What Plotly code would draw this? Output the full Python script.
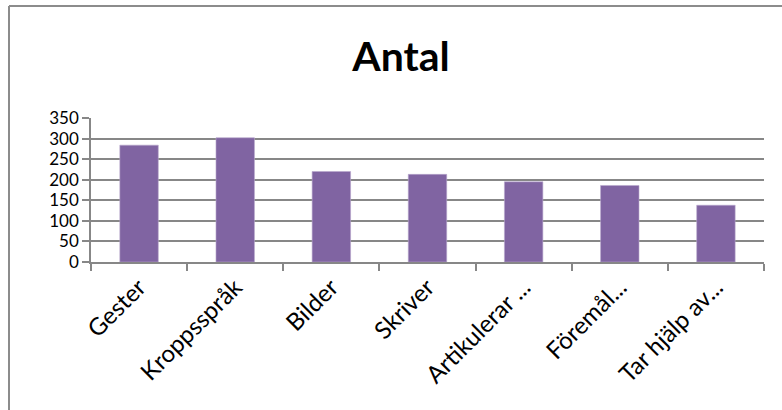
import plotly.graph_objects as go

categories = ["Gester", "Kroppsspråk", "Bilder", "Skriver",
              "Artikulerar ...", "Föremål...", "Tar hjälp av..."]
counts = [284, 302, 220, 213, 195, 186, 138]
y_ticks = [0, 50, 100, 150, 200, 250, 300, 350]

W, H = 782, 410
ML, MR, MT, MB = 91, 18, 118, 148
pw, ph = W - ML - MR, H - MT - MB

grid = "#878787"
font = "Lato, 'Open Sans', sans-serif"

fig = go.Figure(go.Bar(
    x=categories, y=counts,
    marker=dict(color="#8064A2", line=dict(color="#B8A8CC", width=0.6)),
    width=0.4,
))

# outer chart frame (top and left edges visible)
def px_to_paper(x, y):
    return (x - ML) / pw, (H - MB - y) / ph

x0, y0 = px_to_paper(9, 6)
x1, _ = px_to_paper(W + 5, 6)
_, y1 = px_to_paper(9, H + 5)
fig.add_shape(type="line", xref="paper", yref="paper", x0=x0, y0=y0, x1=x1, y1=y0,
              line=dict(color="#8c8c8c", width=2))
fig.add_shape(type="line", xref="paper", yref="paper", x0=x0, y0=y0, x1=x0, y1=y1,
              line=dict(color="#8c8c8c", width=2))

fig.update_layout(
    width=W, height=H,
    margin=dict(l=ML, r=MR, t=MT, b=MB),
    paper_bgcolor="white", plot_bgcolor="white",
    showlegend=False,
    title=dict(text="<b>Antal</b>", x=401 / W, xanchor="center",
               y=1 - 57 / H, yanchor="middle",
               font=dict(family=font, size=41, color="black")),
    xaxis=dict(
        tickangle=-45, tickson="boundaries", ticks="outside", ticklen=7,
        tickcolor=grid, tickwidth=1.5, showline=True, linecolor=grid, linewidth=1.5,
        tickfont=dict(family=font, size=24, color="black"),
        showgrid=False,
    ),
    yaxis=dict(
        range=[0, 350], tickvals=y_ticks, ticks="outside", ticklen=7,
        tickcolor=grid, tickwidth=1.5, showline=True, linecolor=grid, linewidth=1.5,
        gridcolor=grid, gridwidth=1.5, zeroline=False,
        tickfont=dict(family=font, size=17, color="black"),
    ),
)

fig.write_html("out.html")
